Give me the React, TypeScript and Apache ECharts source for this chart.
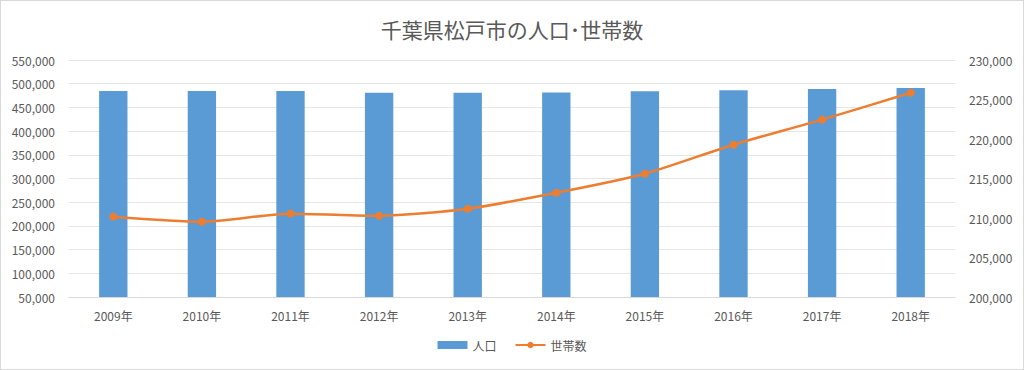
import React, { useEffect, useRef } from "react";
import * as echarts from "echarts";

const years = ["2009年", "2010年", "2011年", "2012年", "2013年", "2014年", "2015年", "2016年", "2017年", "2018年"];
const population = [484600, 484500, 484400, 481000, 481000, 481200, 484300, 486000, 488800, 491000];
const households = [210170, 209530, 210550, 210290, 211180, 213200, 215610, 219280, 222450, 225860];
const leftTicks = { min: 50000, max: 550000, interval: 50000 };
const rightTicks = { min: 200000, max: 230000, interval: 5000 };

const fmt = (v: number) => v.toLocaleString("en-US");
const FONT = "'Noto Sans CJK JP', 'Noto Sans', sans-serif";

export default function App() {
  const ref = useRef<HTMLDivElement>(null);
  useEffect(() => {
    if (!ref.current) return;
    const chart = echarts.init(ref.current, null, { renderer: "svg" });
    chart.setOption({
      animation: false,
      backgroundColor: "#ffffff",
      textStyle: { fontFamily: FONT },
      title: {
        text: "千葉県松戸市の人口･世帯数",
        left: "center",
        top: 12,
        textStyle: { fontFamily: FONT, fontSize: 21, fontWeight: "normal", color: "#595959" },
      },
      legend: {
        bottom: 13,
        left: "center",
        itemGap: 18,
        itemWidth: 30,
        itemHeight: 8,
        textStyle: { fontFamily: FONT, fontSize: 12, color: "#595959" },
        data: [
          { name: "人口", icon: "rect" },
          { name: "世帯数" },
        ],
      },
      grid: { left: 68, right: 68, top: 59, bottom: 72 },
      xAxis: {
        type: "category",
        data: years,
        axisLine: { lineStyle: { color: "#d9d9d9" } },
        axisTick: { show: false },
        axisLabel: { color: "#595959", fontSize: 12, margin: 12, fontFamily: FONT },
      },
      yAxis: [
        {
          type: "value",
          ...leftTicks,
          axisLine: { show: false },
          axisTick: { show: false },
          axisLabel: { color: "#595959", fontSize: 12, margin: 14, formatter: fmt, fontFamily: FONT },
          splitLine: { lineStyle: { color: "#e6e6e6" } },
        },
        {
          type: "value",
          ...rightTicks,
          axisLine: { show: false },
          axisTick: { show: false },
          axisLabel: { color: "#595959", fontSize: 12, margin: 14, formatter: fmt, fontFamily: FONT },
          splitLine: { show: false },
        },
      ],
      series: [
        {
          name: "人口",
          type: "bar",
          data: population,
          barWidth: "32%",
          itemStyle: { color: "#5b9bd5" },
        },
        {
          name: "世帯数",
          type: "line",
          yAxisIndex: 1,
          data: households,
          smooth: 0.25,
          symbol: "circle",
          symbolSize: 8,
          lineStyle: { color: "#ed7d31", width: 2.5 },
          itemStyle: { color: "#ed7d31" },
        },
      ],
    });
    return () => chart.dispose();
  }, []);
  return (
    <div style={{ position: "fixed", left: 0, top: 0, width: 1024, height: 370, background: "#fff" }}>
      <div
        style={{
          position: "absolute",
          left: 0,
          top: 0,
          width: 1022,
          height: 368,
          border: "1px solid #d9d9d9",
        }}
      >
        <div ref={ref} style={{ width: 1022, height: 368 }} />
      </div>
    </div>
  );
}
